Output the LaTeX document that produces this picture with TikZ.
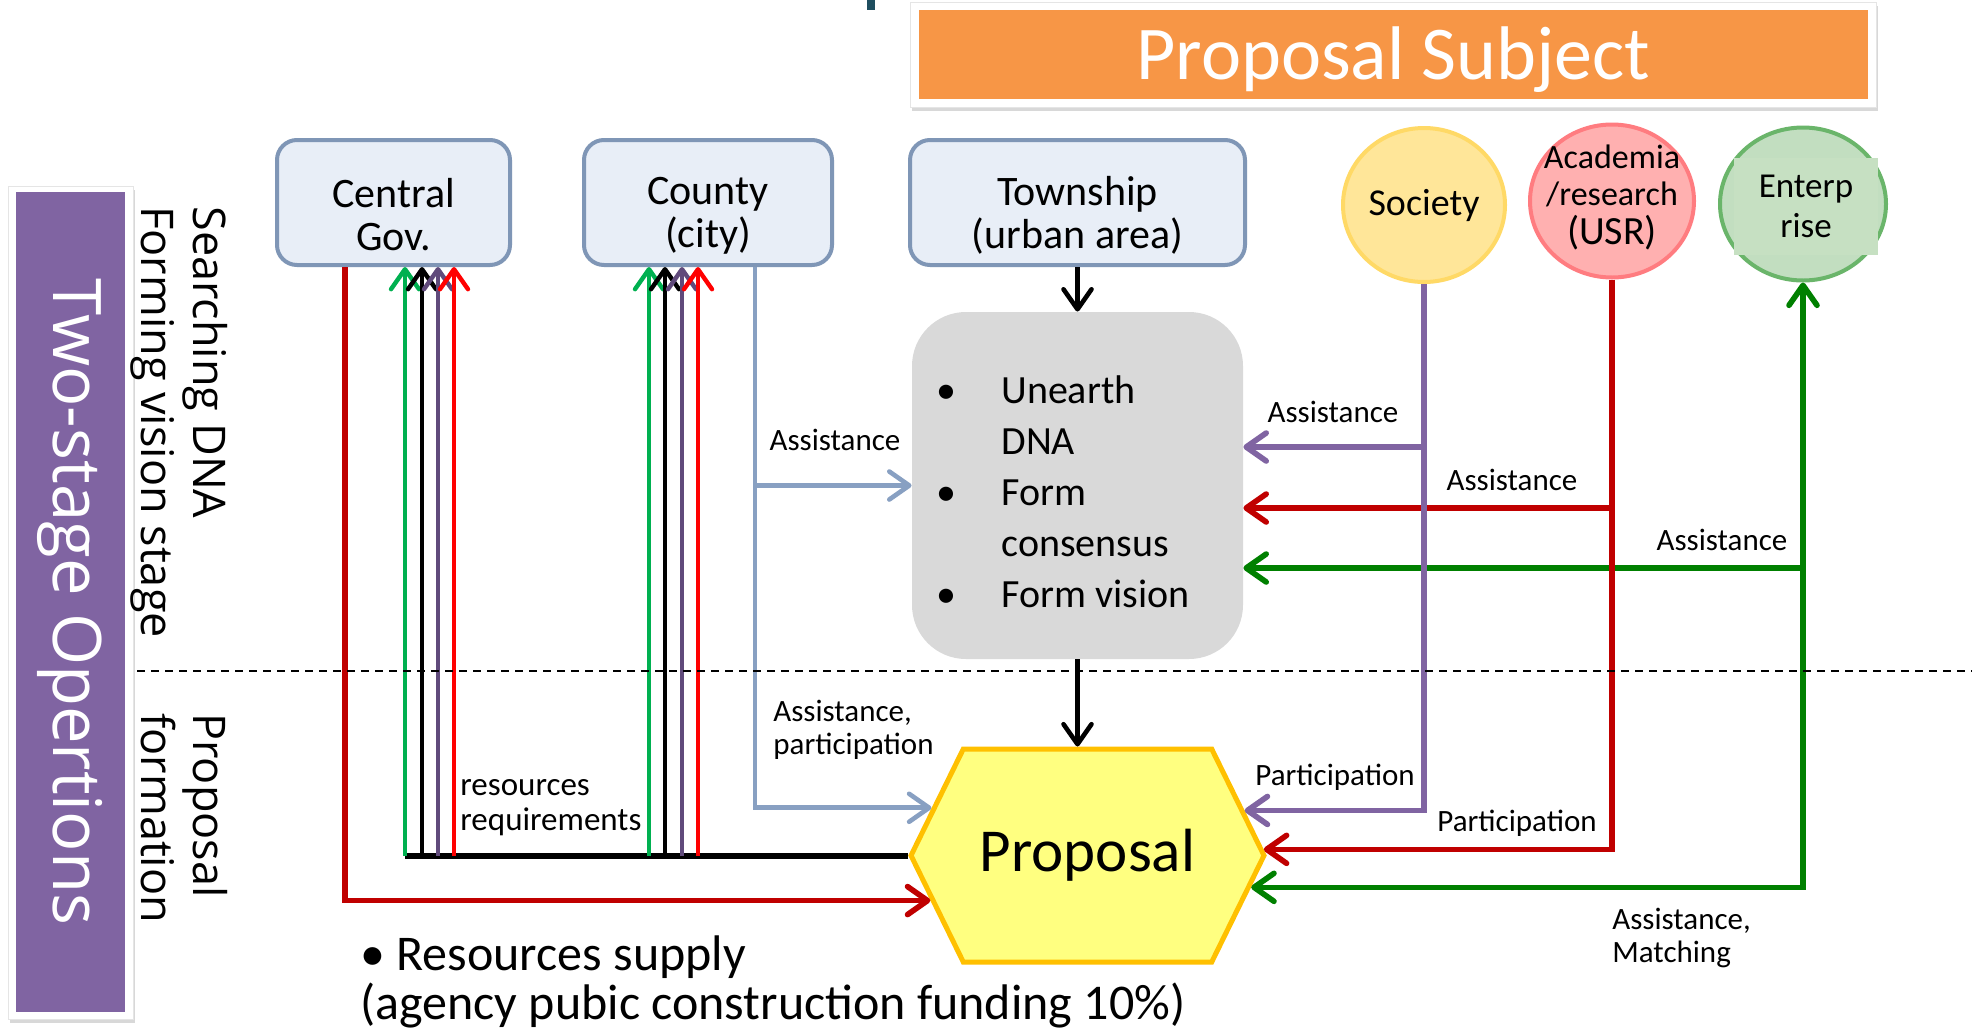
\documentclass[tikz,border=0pt]{standalone}
\usepackage{fontspec}
\setmainfont{Carlito}
\newfontfamily\opensans{Open Sans}
\usetikzlibrary{arrows.meta,shapes.symbols,shapes.geometric,shadows,calc}
\definecolor{boxfill}{RGB}{232,238,247}
\definecolor{boxline}{RGB}{127,150,182}
\definecolor{ctyline}{RGB}{136,160,194}
\definecolor{grayfill}{RGB}{217,217,217}
\definecolor{hexfill}{RGB}{255,255,128}
\definecolor{hexline}{RGB}{255,192,0}
\definecolor{socfill}{RGB}{255,230,153}
\definecolor{socline}{RGB}{255,217,102}
\definecolor{acafill}{RGB}{255,176,176}
\definecolor{acaline}{RGB}{255,124,128}
\definecolor{entfill}{RGB}{194,222,192}
\definecolor{entline}{RGB}{106,181,106}
\definecolor{entinner}{RGB}{198,224,194}
\definecolor{orangeT}{RGB}{247,150,70}
\definecolor{purpleP}{RGB}{128,100,162}
\definecolor{darkred}{RGB}{192,0,0}
\definecolor{brightred}{RGB}{255,0,0}
\definecolor{greenA}{RGB}{0,176,80}
\definecolor{purpleA}{RGB}{96,74,123}
\definecolor{socpurple}{RGB}{128,100,162}
\definecolor{entgreen}{RGB}{0,128,0}
\definecolor{tealmark}{RGB}{31,78,95}
\newcommand{\topgap}{\rule{0pt}{27pt}}
\tikzset{
  govbox/.style={draw=boxline, line width=2pt, fill=boxfill, rounded corners=10pt,
    minimum height=62.5pt, inner sep=0pt, align=center, font=\fontsize{21}{21.5}\selectfont},
  actor/.style={ellipse, line width=2pt, inner sep=0pt},
  lbl/.style={inner sep=0pt, font=\fontsize{15.5}{16.5}\selectfont},
  bundle/.style={line width=2.2pt},
  ctyconn/.style={line width=2.3pt, draw=ctyline},
  rconn/.style={line width=2.8pt},
  blackline/.style={line width=2.3pt, draw=black},
  stagelbl/.style={rotate=-90, anchor=north west, inner sep=0pt, align=left,
    font=\opensans\fontsize{22.5}{26}\selectfont},
  softshadow/.style={drop shadow={shadow xshift=0.8pt, shadow yshift=-1.8pt, opacity=0.3}},
}
\begin{document}
\begin{tikzpicture}[x=0.5pt,y=-0.5pt, >={Straight Barb[length=10pt,width=14pt,round]}]
\fill[white] (0,0) rectangle (1972,1029);
\useasboundingbox (0,0) rectangle (1972,1029);

% title
\node (titleframe) [fill=white, draw=black!10, line width=0.5pt, softshadow,
  minimum width=483pt, minimum height=52.5pt, inner sep=0pt] at (1393,54.5) {};
\node (title) [fill=orangeT, minimum width=474.5pt, minimum height=44.5pt, inner sep=0pt,
  text height=33pt, text depth=8pt,
  text=white, font=\fontsize{38}{40}\selectfont] at (1393.5,54.5) {Proposal Subject};
\node (mark) [fill=tealmark, minimum width=4pt, minimum height=5pt, inner sep=0pt, anchor=north] at (871,0) {};

% left panel
\node (panelframe) [fill=white, draw=black!10, line width=0.5pt, softshadow,
  minimum width=62.5pt, minimum height=416.5pt, inner sep=0pt] at (70.5,602.5) {};
\node (panel) [fill=purpleP, rotate=-90, minimum width=410pt, minimum height=54.5pt, inner sep=0pt,
  text=white, font=\opensans\fontsize{33.5}{35}\selectfont] at (70.5,602) {Two-stage Opertions};

\node (stage1) [stagelbl] at (228,206) {Searching DNA\\Forming vision stage};
\node (stage2) [stagelbl] at (228,713) {Proposal\\formation};

% government boxes
\node (cg) [govbox, minimum width=116.5pt] at (393.5,202.5) {\topgap Central\\Gov.};
\node (cty) [govbox, minimum width=124pt] at (708,202.5) {\topgap County\\(city)};
\node (twp) [govbox, minimum width=167.5pt] at (1077.5,202.5) {\topgap Township\\(urban area)};

% actors
\node (soc) [actor, draw=socline, fill=socfill, minimum width=81pt, minimum height=77pt,
  font=\fontsize{19}{20}\selectfont] at (1424,205) {Society};
\node (aca) [actor, draw=acaline, fill=acafill, minimum width=82pt, minimum height=76.5pt] at (1612,201) {};
\node (acatext) [inner sep=0pt, align=center, font=\fontsize{17}{18.5}\selectfont] at (1612,197)
  {Academia\\/research\\[1pt]{\fontsize{20}{21}\selectfont (USR)}};
\node (ent) [actor, draw=entline, fill=entfill, minimum width=83pt, minimum height=76.5pt] at (1803,204) {};
\node (enttext) [fill=entinner, minimum width=72pt, minimum height=48.5pt, inner sep=0pt, align=center,
  font=\fontsize{17.5}{20}\selectfont] at (1806,206.5) {Enterp\\rise};

% DNA box
\node (dna) [fill=grayfill, rounded corners=27pt, minimum width=165.5pt, minimum height=173.5pt, inner sep=0pt] at (1077.5,485.5) {};
\node (dnatext) [anchor=west, inner sep=0pt, align=left, font=\fontsize{20}{25.5}\selectfont] at (936,491.5)
  {\makebox[32.5pt][l]{\textbullet}Unearth\\\hspace*{32.5pt}DNA\\\makebox[32.5pt][l]{\textbullet}Form\\\hspace*{32.5pt}consensus\\\makebox[32.5pt][l]{\textbullet}Form vision};

% proposal hexagon
\node (prop) [signal, signal to=west and east, signal pointer angle=127.7, draw=hexline, line width=2.5pt,
  fill=hexfill, minimum width=176.5pt, minimum height=106.5pt, inner sep=0pt,
  font=\fontsize{30.5}{32}\selectfont] at (1087.5,855.5) {Proposal};

% township -> dna -> proposal
\draw[blackline,->] (twp.south) -- (dna.north);
\draw[blackline,->] (dna.south) -- (dna.south |- prop.north);

% county assistance
\draw[ctyconn,->] ([xshift=23.5pt]cty.south) |- (dna.west);
\draw[ctyconn,->] ([xshift=23.5pt]cty.south) |- (prop.163.6);

% central resources supply
\draw[rconn, darkred, ->] ([xshift=-24.25pt]cg.south) |- (prop.196.04);

% resources requirements bundle
\draw[black, line width=3pt] (prop.west) -- ([xshift=5.75pt]cg.south |- prop.west);
\foreach \dx/\col in {5.75pt/greenA, 14.25pt/black, 22.25pt/purpleA, 30.25pt/brightred}
  \draw[bundle, \col, ->] ([xshift=\dx]cg.south |- prop.west) -- ([xshift=\dx]cg.south);
\foreach \dx/\col in {-29.5pt/greenA, -21.5pt/black, -13pt/purpleA, -5pt/brightred}
  \draw[bundle, \col, ->] ([xshift=\dx]cty.south |- prop.west) -- ([xshift=\dx]cty.south);

% right side assistance branches
\draw[rconn, socpurple, ->] ([yshift=19.25pt]dna.east -| soc.south) -- ([yshift=19.25pt]dna.east);
\draw[rconn, darkred, ->] ([yshift=-11.25pt]dna.east -| aca.south) -- ([yshift=-11.25pt]dna.east);
\draw[rconn, entgreen, ->] ([yshift=-41.25pt]dna.east -| ent.south) -- ([yshift=-41.25pt]dna.east);

% right side participation
\draw[rconn, socpurple, ->] (soc.south) |- (prop.16.46);
\draw[rconn, darkred, ->] (aca.south) |- (prop.2.15);
\draw[rconn, entgreen, <->] (ent.south) |- (prop.-11.84);

% labels
\node (lA) [lbl] at (835,440) {Assistance};
\node (lAP) [lbl, anchor=west, align=left] at (773,730) {Assistance,\\participation};
\node (lRR) [lbl, anchor=west, align=left, font=\fontsize{16.5}{17.5}\selectfont] at (460,808) {resources\\requirements};
\node (lS) [lbl] at (1333,412) {Assistance};
\node (lAc) [lbl] at (1512,480) {Assistance};
\node (lE) [lbl] at (1722,540) {Assistance};
\node (lP1) [lbl] at (1335,777) {Participation};
\node (lP2) [lbl] at (1517,823) {Participation};
\node (lAM) [lbl, anchor=west, align=left] at (1612,938) {Assistance,\\Matching};

\node (supply) [anchor=north west, inner sep=0pt, align=left, font=\fontsize{25}{24.5}\selectfont] at (360,935)
  {\textbullet\ Resources supply\\(agency pubic construction funding 10\%)};

% stage divider
\coordinate (dashL) at (137,671);
\coordinate (dashR) at (1972,671);
\draw[black, line width=1pt, dash pattern=on 4pt off 3pt] (dashL) -- (dashR);
\end{tikzpicture}
\end{document}
